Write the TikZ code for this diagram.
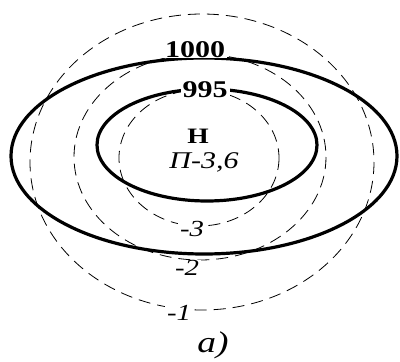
\documentclass[tikz,border=0pt]{standalone}
\usepackage{fontspec}
\setmainfont{Liberation Serif}[FakeStretch=1.25]
\usepackage{tikz}
\usetikzlibrary{positioning}

\tikzset{
  isobar/.style={line width=3.2pt},
  tendency/.style={line width=0.8pt, dash pattern=on 12pt off 7pt},
  isolabel/.style={fill=white, inner xsep=2pt, inner ysep=0pt, font=\fontsize{24}{24}\selectfont\bfseries},
  tendlabel/.style={fill=white, inner xsep=2pt, inner ysep=0pt, font=\fontsize{23}{23}\selectfont\itshape}
}

\begin{document}
\begin{tikzpicture}[x=1pt, y=-1pt]
    \useasboundingbox (0,0) rectangle (400,362);
    % pressure tendency lines
    \draw[tendency] (202,162) ellipse [x radius=172, y radius=148];
    \draw[tendency] (200,157) ellipse [x radius=126, y radius=103];
    \draw[tendency] (199,158) ellipse [x radius=80, y radius=68];
    % isobars
    \draw[isobar] (204,156) ellipse [x radius=193, y radius=98];
    \draw[isobar] (207,145) ellipse [x radius=110, y radius=56];
    % labels
    \node[isolabel] (p1000) at (195,50) {1000};
    \node[isolabel] (p995) at (205,90) {995};
    \node[font=\fontsize{22}{22}\selectfont\bfseries] (low) at (198,136) {Н};
    \node[font=\fontsize{24}{24}\selectfont\itshape] (tend) at (204,162) {П-3,6};
    \node[tendlabel] (t3) at (192,229) {-3};
    \node[tendlabel] (t2) at (187,268) {-2};
    \node[tendlabel] (t1) at (179,313) {-1};
    \node[font=\fontsize{30}{30}\selectfont\itshape] (cap) at (213,345) {а)};
\end{tikzpicture}
\end{document}
